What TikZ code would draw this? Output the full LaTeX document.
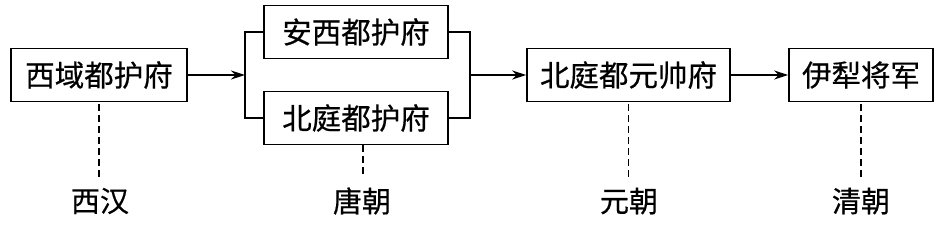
\documentclass[tikz,border=0pt]{standalone}
\usepackage{fontspec}
\setmainfont{Noto Sans CJK SC}[FakeBold=0.5]
\usetikzlibrary{arrows.meta}
\begin{document}
\begin{tikzpicture}[x=1pt,y=-1pt,
  box/.style={draw,line width=1.6pt,minimum height=53pt,inner sep=0pt,font=\fontsize{29.5}{32}\selectfont},
  lbl/.style={font=\fontsize{29}{32}\selectfont,inner sep=0pt},
  con/.style={line width=1.6pt},
  arr/.style={con,-{Stealth[length=14pt,width=9pt]}},
  dsh/.style={line width=1.5pt,dash pattern=on 7pt off 4pt}]
\useasboundingbox (0,0) rectangle (937,225);
\node[box,minimum width=176pt] (a) at (99,75) {西域都护府};
\node[box,minimum width=184pt] (b) at (356,32) {安西都护府};
\node[box,minimum width=184pt] (c) at (356,118) {北庭都护府};
\node[box,minimum width=203pt] (d) at (628.5,75) {北庭都元帅府};
\node[box,minimum width=144pt] (e) at (861,75) {伊犁将军};
\coordinate (lj) at (245,75);
\coordinate (rj) at (470,75);
\draw[arr] (a.east) -- (lj);
\draw[con] (b.west) -| (lj) |- (c.west);
\draw[con] (b.east) -| (rj) |- (c.east);
\draw[arr] (rj) -- (d.west);
\draw[arr] (d.east) -- (e.west);
\node[lbl] (l1) at (100,201) {西汉};
\node[lbl] (l2) at (362,201) {唐朝};
\node[lbl] (l3) at (629,201) {元朝};
\node[lbl] (l4) at (861,201) {清朝};
\draw[dsh] (a.south) ++(0,2) coordinate (a2) -- (a2 |- 0,177);
\draw[dsh] ([xshift=7pt]c.south) -- ++(0,31);
\draw[dsh] (d.south) ++(0,2) coordinate (d2) -- (d2 |- 0,178);
\draw[dsh] (e.south) ++(0,2) coordinate (e2) -- (e2 |- 0,178);
\end{tikzpicture}
\end{document}
